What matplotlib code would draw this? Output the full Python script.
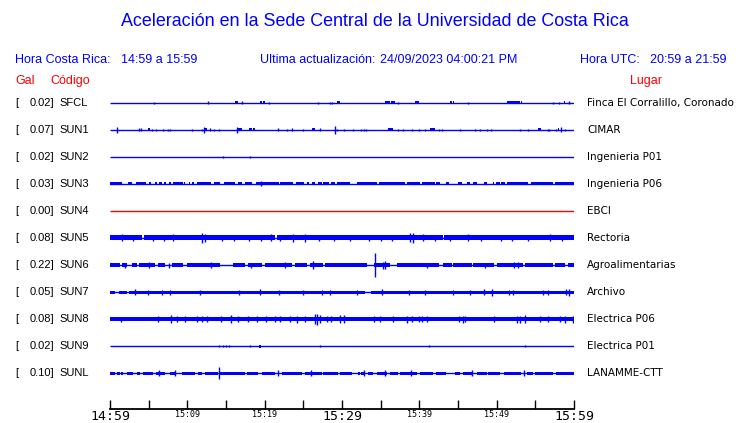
import matplotlib
matplotlib.use("Agg")
import matplotlib.pyplot as plt

# ---------------- data ----------------
codes = ["SFCL", "SUN1", "SUN2", "SUN3", "SUN4", "SUN5", "SUN6", "SUN7", "SUN8", "SUN9", "SUNL"]
gal = ["0.02", "0.07", "0.02", "0.03", "0.00", "0.08", "0.22", "0.05", "0.08", "0.02", "0.10"]
places = ["Finca El Corralillo, Coronado", "CIMAR", "Ingenieria P01", "Ingenieria P06", "EBCI",
          "Rectoria", "Agroalimentarias", "Archivo", "Electrica P06", "Electrica P01", "LANAMME-CTT"]
trace_colors = ["#0000ff"] * 4 + ["#ff0000"] + ["#0000ff"] * 6

tick_minutes = [0, 5, 10, 15, 20, 25, 30, 35, 40, 45, 50, 55, 60]
tick_labels = ["14:59", "", "15:09", "", "15:19", "", "15:29", "", "15:39", "", "15:49", "", "15:59"]
big_labels = ["14:59", "15:29", "15:59"]

# band half-amplitude (px) per station
band_amp = {"SFCL": 1.5, "SUN1": 1.5, "SUN2": 1.5, "SUN3": 1.5, "SUN4": 1.5, "SUN5": 2.5,
            "SUN6": 1.7, "SUN7": 1.5, "SUN8": 2.0, "SUN9": 1.5, "SUNL": 1.5}

# band segments (start minute, end minute)
bands = {
    "SFCL": [(16.2, 16.5), (19.4, 19.7), (19.8, 20.1), (29.4, 29.7), (35.6, 36.2), (36.4, 36.9),
             (39.4, 40.0), (44.0, 44.2), (44.3, 44.5), (51.4, 53.0), (53.1, 53.3), (58.7, 58.9)],
    "SUN1": [(4.9, 5.2), (12.1, 12.5), (16.6, 17.1), (18.0, 18.4), (18.5, 18.8), (26.1, 26.5),
             (36.0, 36.6), (41.4, 42.0), (55.3, 55.7), (57.9, 58.1)],
    "SUN2": [],
    "SUN3": [(0, 1.5), (1.9, 2.0), (2.3, 2.9), (3.4, 4.6), (5.0, 5.3), (5.8, 6.1), (6.3, 6.7),
             (7.0, 7.3), (7.6, 7.9), (8.2, 9.4), (9.6, 9.75), (10.2, 10.3), (10.6, 10.9),
             (11.3, 13.1), (13.4, 14.2), (14.7, 16.2), (16.6, 17.1), (17.5, 18.3), (18.9, 21.8),
             (22.0, 23.7), (24.0, 25.1), (25.5, 25.7), (26.1, 26.5), (26.9, 27.4), (27.6, 28.3),
             (28.6, 29.1), (29.3, 31.0), (31.5, 31.6), (32.0, 34.5), (34.8, 38.1), (38.4, 40.1),
             (40.3, 42.0), (42.2, 42.7), (43.4, 43.9), (44.3, 44.4), (45.0, 45.5), (46.1, 46.6),
             (47.0, 47.5), (47.8, 47.9), (48.4, 48.7), (49.5, 49.6), (49.9, 50.4), (50.6, 51.1),
             (51.3, 54.1), (54.4, 57.3), (57.5, 60)],
    "SUN4": [],
    "SUN5": [(0, 4.2), (4.4, 21.4), (21.6, 43.0), (43.2, 60)],
    "SUN6": [(0, 1.3), (1.5, 2.2), (2.8, 3.5), (3.7, 5.8), (6.25, 7.1), (8.0, 9.5), (9.9, 14.2),
             (15.9, 17.5), (17.9, 19.6), (20.0, 23.5), (23.9, 25.5), (25.9, 27.6), (27.8, 33.2),
             (34.1, 36.2), (37.1, 42.5), (43.1, 44.2), (44.4, 46.8), (47.0, 49.6), (50.0, 53.4),
             (53.7, 57.3), (57.5, 58.8), (59.2, 60)],
    "SUN7": [(0, 0.7), (1.1, 2.2), (2.5, 33.0), (33.8, 60)],
    "SUN8": [(0, 60)],
    "SUN9": [(19.3, 19.5)],
    "SUNL": [(0, 0.65), (0.85, 1.3), (1.4, 1.7), (2.15, 3.0), (3.45, 3.9), (4.3, 5.6), (6.0, 7.1),
             (7.75, 8.4), (9.3, 11.0), (11.4, 11.85), (12.3, 14.0), (14.2, 17.5), (17.7, 19.2),
             (19.6, 21.3), (22.2, 24.8), (25.2, 27.4), (27.6, 29.5), (29.7, 31.25), (32.1, 32.3),
             (32.5, 33.0), (33.4, 34.0), (34.5, 35.8), (36.2, 37.3), (37.5, 39.7), (40.1, 41.8),
             (42.2, 43.5), (44.6, 45.3), (45.7, 47.0), (47.4, 48.7), (48.9, 50.4), (50.9, 53.2),
             (53.9, 54.7), (54.9, 57.3), (57.7, 60)],
}

# spikes (minute, half-amplitude px)
spikes = {
    "SFCL": [(5.7, 1), (12.7, 1.5), (17.1, 1.5), (20.6, 1), (26.9, 0.8), (28.5, 0.8), (28.7, 0.8),
             (37.2, 1), (46.3, 0.8), (57.3, 0.8), (58.0, 0.8), (59.3, 1.5)],
    "SUN1": [(0.86, 2.7), (3.7, 1.5), (4.0, 1.5), (5.4, 1), (6.0, 0.8), (6.8, 1), (7.5, 1), (7.8, 1),
             (10.6, 0.8), (11.9, 1), (12.2, 3), (12.9, 1.5), (13.5, 0.8), (14.1, 1.2), (16.4, 3),
             (21.7, 1.5), (22.9, 0.8), (23.5, 1.5), (24.9, 0.8), (27.2, 1.5), (29.1, 4.2), (29.4, 1),
             (30.2, 1), (31.4, 1.2), (32.5, 1.2), (32.8, 1.2), (33.1, 1.2), (37.2, 1.2), (37.9, 0.8),
             (39.1, 1), (39.9, 0.8), (40.7, 1), (42.5, 1.2), (42.9, 1.2), (45.3, 0.8), (47.2, 1.2),
             (47.8, 0.8), (48.8, 1), (49.3, 1), (53.0, 0.8), (54.0, 0.8), (56.6, 1.2), (56.8, 1.2),
             (57.7, 0.8), (58.3, 2.5), (58.9, 0.8)],
    "SUN2": [(14.6, 0.8), (18.1, 1.2)],
    "SUN3": [(19.5, 2.5)],
    "SUN4": [],
    "SUN5": [(1.5, 3.5), (3.0, 3.2), (5.5, 3.2), (7.0, 3.2), (8.2, 3.5), (11.9, 5), (12.3, 4),
             (14.5, 3.2), (16.0, 3.2), (18.0, 3.2), (19.5, 3.2), (20.8, 3.5), (22.0, 3.2),
             (23.6, 4), (25.2, 4), (27.0, 3.2), (29.0, 3.2), (31.0, 3.2), (33.5, 3.2), (35.0, 3.2),
             (36.5, 3.2), (38.8, 4.5), (39.2, 5), (40.5, 3.5), (42.0, 3.2), (44.0, 3.2),
             (46.3, 3.5), (48.0, 3.2), (50.5, 3.2), (52.0, 3.2), (54.0, 3.2), (56.9, 3.5), (58.5, 3.2)],
    "SUN6": [(2.0, 2.5), (5.1, 3), (7.6, 2.5), (13.1, 3), (18.2, 2.5), (22.6, 3), (26.2, 4),
             (34.3, 12), (35.3, 3.5), (35.6, 4), (41.0, 2.5), (48.5, 2.5), (52.2, 3), (52.7, 3)],
    "SUN7": [(3.2, 3), (4.9, 2.5), (6.7, 2.5), (7.7, 2.5), (11.6, 2.5), (16.7, 2.5), (19.4, 3),
             (21.8, 2.5), (25.0, 2.5), (27.4, 2.5), (28.4, 2.5), (31.9, 2.5), (35.2, 3), (38.6, 2.5),
             (40.7, 2.5), (44.4, 2.5), (46.5, 2.5), (48.3, 3), (49.4, 3.5), (51.6, 2.5), (52.1, 2.5),
             (56.0, 2.5), (56.7, 2.5), (59.0, 3), (59.3, 3.5)],
    "SUN8": [(1.4, 2.5), (6.2, 3), (7.9, 4.5), (8.6, 3), (9.7, 3), (11.3, 3), (11.9, 3), (12.6, 3),
             (14.3, 3), (15.6, 4.5), (16.5, 3), (17.9, 3), (19.0, 3), (20.2, 3), (21.3, 3), (22.0, 3),
             (23.3, 3), (24.2, 3.5), (25.2, 3), (26.5, 5), (26.8, 5.5), (27.2, 4), (28.1, 3),
             (28.6, 3), (29.8, 4), (30.3, 4), (34.1, 3), (34.9, 3), (36.6, 3), (38.4, 3.5), (39.0, 3),
             (39.9, 3), (40.3, 3), (41.0, 3), (45.1, 3), (45.6, 3.5), (45.9, 3), (49.7, 3),
             (52.6, 3.5), (53.0, 3.5), (53.7, 4), (55.6, 3), (56.7, 3), (58.2, 3), (58.8, 3.5),
             (59.9, 3.5)],
    "SUN9": [(14.1, 1), (14.6, 1), (15.0, 1), (15.4, 0.8), (18.1, 1.2), (27.2, 0.8), (41.2, 1),
             (53.6, 1)],
    "SUNL": [(6.3, 2.5), (8.4, 2.5), (14.1, 5.5), (21.7, 2.5), (26.0, 2.5), (32.8, 3), (35.5, 2.5),
             (38.9, 2.5), (46.8, 2.5), (53.5, 3)],
}

# ---------------- figure ----------------
W, H = 740, 423
fig = plt.figure(figsize=(W / 100, H / 100), dpi=100)
fig.patch.set_facecolor("white")

ROW = 27.0          # px between traces
TOP_PX, AX_TOP, AX_BOT = 103, 92, 409
X0, X1 = 110, 574

ax = fig.add_axes([X0 / W, 1 - AX_BOT / H, (X1 - X0) / W, (AX_BOT - AX_TOP) / H])
ax.set_xlim(0, 60)
ax.set_ylim((AX_BOT - TOP_PX) / ROW, (AX_TOP - TOP_PX) / ROW)
for s in ["top", "left", "right"]:
    ax.spines[s].set_visible(False)
ax.spines["bottom"].set_linewidth(1.3)
ax.set_yticks([])
ax.set_xticks(tick_minutes)
ax.set_xticklabels(tick_labels)
ax.tick_params(axis="x", direction="in", length=6.5, width=1.0, pad=0.8)
for lab in ax.get_xticklabels():
    big = lab.get_text() in big_labels
    lab.set_fontfamily("DejaVu Sans Mono")
    lab.set_fontsize(9.5 if big else 6)

for i, code in enumerate(codes):
    c = trace_colors[i]
    ax.plot([0, 60], [i, i], color=c, lw=1.0, solid_capstyle="butt")
    a = band_amp[code] / ROW
    segs = bands[code]
    if segs:
        ax.bar(x=[s for s, e in segs], height=2 * a, width=[e - s for s, e in segs],
               bottom=i - a, align="edge", color=c, linewidth=0)
    sp = spikes[code]
    if sp:
        ax.vlines([m for m, h in sp], [i - h / ROW for m, h in sp], [i + h / ROW for m, h in sp],
                  color=c, lw=1.0)


def ftext(x, y, s, **kw):
    fig.text(x / W, 1 - y / H, s, va="center", **kw)


BLUE = "#0000ff"
RED = "#ff0000"
sans = "Liberation Sans"
ftext(375, 21, "Aceleración en la Sede Central de la Universidad de Costa Rica", ha="center",
      color=BLUE, fontsize=12.9, family=sans)
ftext(15, 60, "Hora Costa Rica:", color=BLUE, fontsize=9, family=sans)
ftext(121, 60, "14:59 a 15:59", color=BLUE, fontsize=9, family=sans)
ftext(260.5, 60, "Ultima actualización:", color=BLUE, fontsize=9, family=sans)
ftext(380, 60, "24/09/2023 04:00:21 PM", color=BLUE, fontsize=9, family=sans)
ftext(580.5, 60, "Hora UTC:", color=BLUE, fontsize=9, family=sans)
ftext(650.5, 60, "20:59 a 21:59", color=BLUE, fontsize=9, family=sans)
ftext(15, 81, "Gal", color=RED, fontsize=9, family=sans)
ftext(50, 81, "Código", color=RED, fontsize=9, family=sans)
ftext(630, 81, "Lugar", color=RED, fontsize=9, family=sans)

for i, code in enumerate(codes):
    y = TOP_PX + ROW * i
    ftext(15, y, "[", color="black", fontsize=8, family=sans)
    ftext(54.5, y, gal[i] + "]", ha="right", color="black", fontsize=8, family=sans)
    ftext(59, y, code, color="black", fontsize=8, family=sans)
    ftext(587, y, places[i], color="black", fontsize=7.5, family="DejaVu Sans")

fig.savefig("out.png", dpi=100)
